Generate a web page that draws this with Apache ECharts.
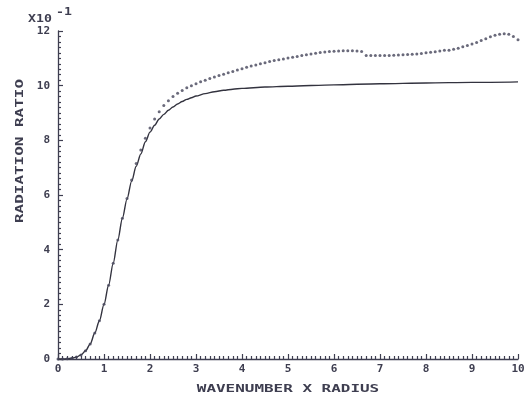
<!DOCTYPE html>
<html>
<head>
<meta charset="utf-8">
<script src="https://cdn.jsdelivr.net/npm/echarts@6/dist/echarts.min.js"></script>
<style>
html,body{margin:0;padding:0;background:#fff;}
#chart{width:530px;height:397px;}
</style>
</head>
<body>
<div id="chart"></div>
<script>
// Axis ticks
const xTicks = [0,1,2,3,4,5,6,7,8,9,10];
const yTicks = [0,2,4,6,8,10,12];
const yScaleLabel = 'X10';
const yScaleExp = '-1';
const xTitle = 'WAVENUMBER X RADIUS';
const yTitle = 'RADIATION RATIO';

// Solid curve (values in units of 10^-1)
const xLine = [0,0.1,0.2,0.3,0.4,0.5,0.6,0.7,0.8,0.9,1.0,1.1,1.2,1.3,1.4,1.5,1.6,1.7,1.8,1.9,2.0,2.1,2.2,2.3,2.4,2.5,2.6,2.7,2.8,2.9,3.0,3.2,3.4,3.6,3.8,4.0,4.5,5,6,7,8,9,10];
const yLine = [0,0,0.01,0.03,0.07,0.15,0.3,0.55,0.95,1.4,2.0,2.7,3.5,4.35,5.15,5.85,6.5,7.05,7.5,7.95,8.3,8.55,8.78,8.95,9.1,9.22,9.33,9.42,9.5,9.56,9.62,9.71,9.78,9.83,9.87,9.9,9.95,9.98,10.03,10.07,10.1,10.12,10.14];

// Dotted curve
const xDots = [0,0.1,0.2,0.3,0.4,0.5,0.6,0.7,0.8,0.9,
  1.0,1.1,1.2,1.3,1.4,1.5,1.6,1.7,1.8,1.9,
  2.0,2.1,2.2,2.3,2.4,2.5,2.6,2.7,2.8,2.9,
  3.0,3.1,3.2,3.3,3.4,3.5,3.6,3.7,3.8,3.9,
  4.0,4.1,4.2,4.3,4.4,4.5,4.6,4.7,4.8,4.9,
  5.0,5.1,5.2,5.3,5.4,5.5,5.6,5.7,5.8,5.9,
  6.0,6.1,6.2,6.3,6.4,6.5,6.6,6.7,6.8,6.9,
  7.0,7.1,7.2,7.3,7.4,7.5,7.6,7.7,7.8,7.9,
  8.0,8.1,8.2,8.3,8.4,8.5,8.6,8.7,8.8,8.9,
  9.0,9.1,9.2,9.3,9.4,9.5,9.6,9.7,9.8,9.9,10.0];
const yDots = [0,0,0.01,0.03,0.07,0.15,0.3,0.55,0.95,1.4,
  2.0,2.7,3.5,4.35,5.15,5.87,6.55,7.15,7.65,8.08,
  8.45,8.78,9.05,9.27,9.45,9.6,9.72,9.82,9.92,10.0,
  10.07,10.14,10.2,10.26,10.32,10.37,10.42,10.47,10.52,10.57,
  10.62,10.67,10.72,10.76,10.8,10.84,10.88,10.92,10.95,10.98,
  11.01,11.04,11.07,11.1,11.13,11.16,11.19,11.21,11.23,11.25,
  11.26,11.27,11.28,11.28,11.28,11.27,11.25,11.1,11.1,11.1,
  11.1,11.1,11.1,11.11,11.12,11.13,11.14,11.15,11.16,11.18,
  11.2,11.22,11.24,11.27,11.3,11.3,11.33,11.37,11.42,11.47,
  11.52,11.58,11.65,11.72,11.79,11.84,11.88,11.9,11.88,11.8,11.68];

const ink = '#3e3e50';
const font = 'DejaVu Sans Mono';

const chart = echarts.init(document.getElementById('chart'), null, {renderer:'canvas'});
chart.setOption({
  animation: false,
  backgroundColor: '#ffffff',
  grid: {left: 58, right: 12, top: 31, bottom: 38, containLabel: false},
  xAxis: {
    type: 'value', min: xTicks[0], max: xTicks[xTicks.length-1], interval: 1,
    axisLine: {show: true, lineStyle: {color: ink, width: 1.3}},
    axisTick: {show: true, inside: true, length: 5, lineStyle: {color: ink, width: 1.2}},
    minorTick: {show: true, splitNumber: 10, length: 3, lineStyle: {color: ink, width: 1.2}},
    splitLine: {show: false},
    axisLabel: {color: ink, fontFamily: font, fontSize: 11, fontWeight: 'bold', margin: 5,
      formatter: v => String(v)}
  },
  yAxis: {
    type: 'value', min: yTicks[0], max: yTicks[yTicks.length-1], interval: 2,
    axisLine: {show: true, lineStyle: {color: ink, width: 1.3}},
    axisTick: {show: true, inside: true, length: 5, lineStyle: {color: ink, width: 1.2}},
    minorTick: {show: true, splitNumber: 10, length: 3, lineStyle: {color: ink, width: 1.2}},
    splitLine: {show: false},
    axisLabel: {color: ink, fontFamily: font, fontSize: 11, fontWeight: 'bold', margin: 8,
      formatter: v => String(v)}
  },
  graphic: [
    {type: 'text', x: 288, y: 389, scaleX: 1.45,
      style: {text: xTitle, x: 0, y: 0, fill: ink, font: 'bold 11px "' + font + '"', align: 'center', verticalAlign: 'middle'}},
    {type: 'text', x: 20, y: 151, rotation: Math.PI/2, scaleX: 1.45,
      style: {text: yTitle, x: 0, y: 0, fill: ink, font: 'bold 11px "' + font + '"', align: 'center', verticalAlign: 'middle'}},
    {type: 'text', x: 28, y: 19, scaleX: 1.2,
      style: {text: yScaleLabel, x: 0, y: 0, fill: ink, font: 'bold 11px "' + font + '"', align: 'left', verticalAlign: 'middle'}},
    {type: 'text', x: 56, y: 12, scaleX: 1.2,
      style: {text: yScaleExp, x: 0, y: 0, fill: ink, font: 'bold 11px "' + font + '"', align: 'left', verticalAlign: 'middle'}}
  ],
  series: [
    {
      type: 'line', smooth: 0.3, smoothMonotone: 'x', showSymbol: false,
      lineStyle: {color: '#33333f', width: 1.4},
      data: xLine.map((x, i) => [x, yLine[i]]),
      z: 2
    },
    {
      type: 'scatter', symbol: 'circle', symbolSize: 3,
      itemStyle: {color: '#45455a'},
      data: xDots.map((x, i) => [x, yDots[i]]),
      z: 3
    }
  ]
});
</script>
</body>
</html>
